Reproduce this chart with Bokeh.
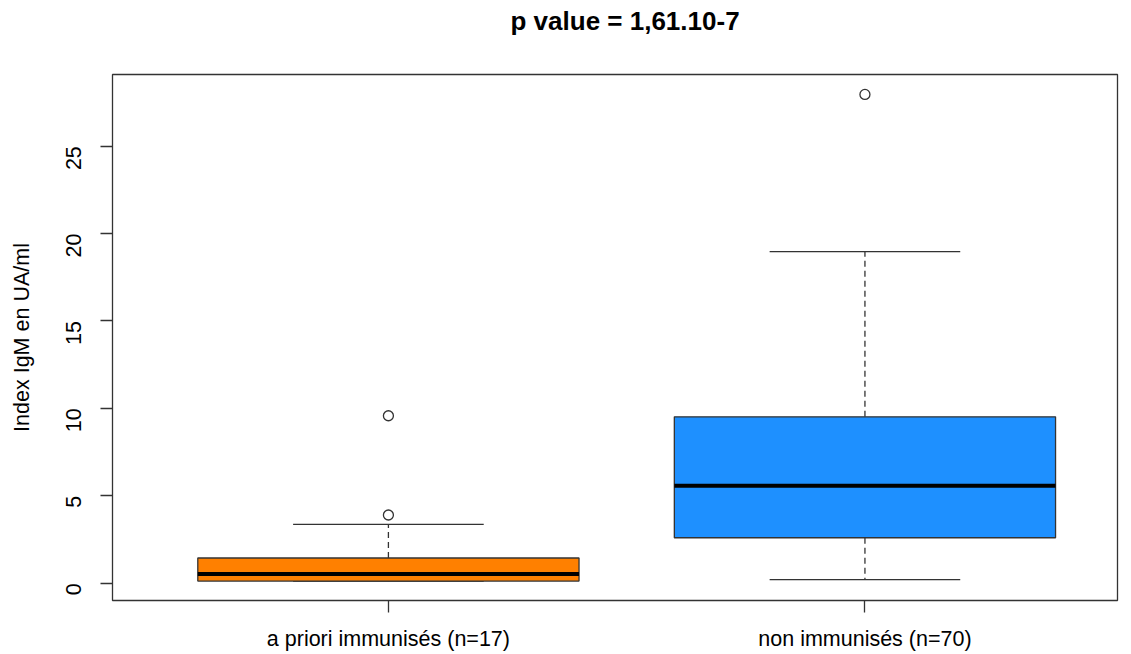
import math
from bokeh.plotting import figure
from bokeh.models import FixedTicker, Range1d, ColumnDataSource, Title
from bokeh.embed import file_html
from bokeh.resources import INLINE

# ---- data ----
groups = ["a priori immunisés (n=17)", "non immunisés (n=70)"]
positions = [1, 2]
q1 = [0.12, 2.60]
median = [0.52, 5.58]
q3 = [1.44, 9.52]
whisker_low = [0.12, 0.20]
whisker_high = [3.36, 18.97]
colors = ["#FF8000", "#1E90FF"]
outlier_group = [1, 1, 2]
outlier_value = [3.90, 9.58, 27.96]
y_ticks = [0, 5, 10, 15, 20, 25]
title_text = "p value = 1,61.10-7"
y_label = "Index IgM en UA/ml"

FONT = "Liberation Sans"
LINE = "#333333"
box_w = 0.8
cap_w = 0.4

p = figure(width=1123, height=653, output_backend="svg", toolbar_location=None, title=None,
           x_range=Range1d(0.421, 2.53), y_range=Range1d(-0.99, 29.1),
           min_border_left=112, min_border_right=6, min_border_top=74, min_border_bottom=53)
p.background_fill_color = "white"
p.border_fill_color = "white"
p.grid.visible = False
p.outline_line_color = LINE
p.outline_line_width = 1.3

src = ColumnDataSource(dict(
    x=positions, q1=q1, med=median, q3=q3, lo=whisker_low, hi=whisker_high, color=colors,
    left=[x - box_w / 2 for x in positions], right=[x + box_w / 2 for x in positions],
    cl=[x - cap_w / 2 for x in positions], cr=[x + cap_w / 2 for x in positions],
))

# whiskers (dashed)
p.segment(x0="x", y0="q3", x1="x", y1="hi", source=src, line_color=LINE, line_width=1.3, line_dash="6 4")
p.segment(x0="x", y0="q1", x1="x", y1="lo", source=src, line_color=LINE, line_width=1.3, line_dash="6 4")
# caps
p.segment(x0="cl", y0="hi", x1="cr", y1="hi", source=src, line_color=LINE, line_width=1.3)
p.segment(x0="cl", y0="lo", x1="cr", y1="lo", source=src, line_color=LINE, line_width=1.3)
# boxes
p.quad(left="left", right="right", bottom="q1", top="q3", source=src,
       fill_color="color", line_color=LINE, line_width=1.3)
# medians
p.segment(x0="left", y0="med", x1="right", y1="med", source=src, line_color="black", line_width=4)
# outliers
p.scatter(x=outlier_group, y=outlier_value, size=10, marker="circle",
          fill_color="white", line_color=LINE, line_width=1.3)

# axes
p.xaxis.ticker = FixedTicker(ticks=positions)
p.xaxis.major_label_overrides = {x: g for x, g in zip(positions, groups)}
p.yaxis.ticker = FixedTicker(ticks=y_ticks)
for ax in (p.xaxis, p.yaxis):
    ax.axis_line_color = None
    ax.major_tick_line_color = LINE
    ax.major_tick_line_width = 1.3
    ax.major_tick_out = 12
    ax.major_tick_in = 0
    ax.minor_tick_line_color = None
    ax.major_label_text_font = FONT
    ax.major_label_text_font_size = "21.5px"
    ax.major_label_text_color = "black"
p.xaxis.major_label_standoff = 14
p.yaxis.major_label_standoff = 27
p.yaxis.major_label_orientation = math.pi / 2
p.yaxis.axis_label = y_label
p.yaxis.axis_label_text_font = FONT
p.yaxis.axis_label_text_font_size = "21.5px"
p.yaxis.axis_label_text_font_style = "normal"
p.yaxis.axis_label_text_color = "black"
p.yaxis.axis_label_standoff = 22

# spacer between frame and title, then the title itself
p.add_layout(Title(text=" ", text_font=FONT, text_font_size="33px", standoff=0), "above")
p.add_layout(Title(text=title_text, text_font=FONT, text_font_size="26px", text_font_style="bold",
                   text_color="black", align="left", offset=398, standoff=0), "above")

open("out.html", "w").write(file_html(p, INLINE))
